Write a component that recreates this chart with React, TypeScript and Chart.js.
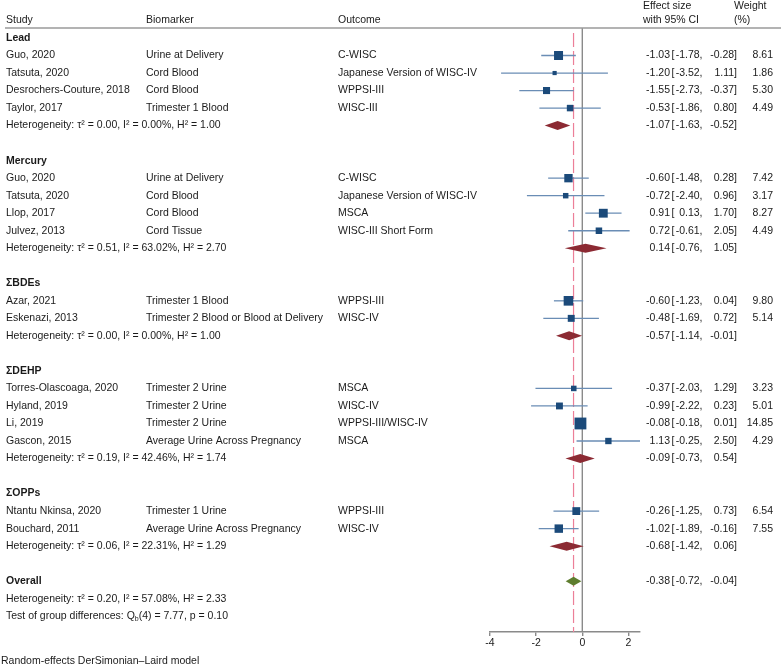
import React, { useEffect, useRef } from "react";
import { Chart, registerables } from "chart.js";
Chart.register(...registerables);

const groupNames = ["Lead", "Mercury", "ΣBDEs", "ΣDEHP", "ΣOPPs"];
const studyGroup = [0, 0, 0, 0, 1, 1, 1, 1, 2, 2, 3, 3, 3, 3, 4, 4];
const studyNames = [
  "Guo, 2020", "Tatsuta, 2020", "Desrochers-Couture, 2018", "Taylor, 2017",
  "Guo, 2020", "Tatsuta, 2020", "Llop, 2017", "Julvez, 2013",
  "Azar, 2021", "Eskenazi, 2013",
  "Torres-Olascoaga, 2020", "Hyland, 2019", "Li, 2019", "Gascon, 2015",
  "Ntantu Nkinsa, 2020", "Bouchard, 2011",
];
const biomarkers = [
  "Urine at Delivery", "Cord Blood", "Cord Blood", "Trimester 1 Blood",
  "Urine at Delivery", "Cord Blood", "Cord Blood", "Cord Tissue",
  "Trimester 1 Blood", "Trimester 2 Blood or Blood at Delivery",
  "Trimester 2 Urine", "Trimester 2 Urine", "Trimester 2 Urine", "Average Urine Across Pregnancy",
  "Trimester 1 Urine", "Average Urine Across Pregnancy",
];
const outcomes = [
  "C-WISC", "Japanese Version of WISC-IV", "WPPSI-III", "WISC-III",
  "C-WISC", "Japanese Version of WISC-IV", "MSCA", "WISC-III Short Form",
  "WPPSI-III", "WISC-IV",
  "MSCA", "WISC-IV", "WPPSI-III/WISC-IV", "MSCA",
  "WPPSI-III", "WISC-IV",
];
const effects = [-1.03, -1.2, -1.55, -0.53, -0.6, -0.72, 0.91, 0.72, -0.6, -0.48, -0.37, -0.99, -0.08, 1.13, -0.26, -1.02];
const lowers = [-1.78, -3.52, -2.73, -1.86, -1.48, -2.4, 0.13, -0.61, -1.23, -1.69, -2.03, -2.22, -0.18, -0.25, -1.25, -1.89];
const uppers = [-0.28, 1.11, -0.37, 0.8, 0.28, 0.96, 1.7, 2.05, 0.04, 0.72, 1.29, 0.23, 0.01, 2.5, 0.73, -0.16];
const weights = [8.61, 1.86, 5.3, 4.49, 7.42, 3.17, 8.27, 4.49, 9.8, 5.14, 3.23, 5.01, 14.85, 4.29, 6.54, 7.55];

const groupEffects = [-1.07, 0.14, -0.57, -0.09, -0.68];
const groupLowers = [-1.63, -0.76, -1.14, -0.73, -1.42];
const groupUppers = [-0.52, 1.05, -0.01, 0.54, 0.06];
const groupTau2 = ["0.00", "0.51", "0.00", "0.19", "0.06"];
const groupI2 = ["0.00", "63.02", "0.00", "42.46", "22.31"];
const groupH2 = ["1.00", "2.70", "1.00", "1.74", "1.29"];

const overallEffect = -0.38;
const overallLower = -0.72;
const overallUpper = -0.04;
const overallTau2 = "0.20";
const overallI2 = "57.08";
const overallH2 = "2.33";
const testDf = 4;
const testQ = "7.77";
const testP = "0.10";

const xTicks = [-4, -2, 0, 2];

const FONT = '"Liberation Sans", Arial, Helvetica, sans-serif';
const FS = 10.5;

// row layout
const studyRows: number[] = [];
const groupHeaderRows: number[] = [];
const groupHetRows: number[] = [];
let r = 0;
groupNames.forEach((_, g) => {
  groupHeaderRows.push(r);
  r++;
  studyGroup.forEach((sg, i) => {
    if (sg === g) {
      studyRows[i] = r;
      r++;
    }
  });
  groupHetRows.push(r);
  r += 2;
});
const overallRow = r;
const overallHetRow = r + 1;
const testRow = r + 2;

const fmt = (v: number) => v.toFixed(2);

export default function App() {
  const ref = useRef<HTMLCanvasElement | null>(null);
  useEffect(() => {
    const canvas = ref.current;
    if (!canvas) return;

    const forest = {
      id: "forest",
      beforeDatasetsDraw(chart: any) {
        const ctx = chart.ctx;
        const xs = chart.scales.x;
        const ys = chart.scales.y;
        const area = chart.chartArea;
        ctx.save();
        // zero line
        const x0 = xs.getPixelForValue(0);
        ctx.strokeStyle = "#8a8a8a";
        ctx.lineWidth = 1.4;
        ctx.beginPath();
        ctx.moveTo(x0, area.top);
        ctx.lineTo(x0, area.bottom);
        ctx.stroke();
        // overall dashed line
        const xo = xs.getPixelForValue(overallEffect);
        ctx.strokeStyle = "#ec7f98";
        ctx.lineWidth = 1.2;
        ctx.setLineDash([14, 4]);
        ctx.beginPath();
        ctx.moveTo(xo, area.top + 5);
        ctx.lineTo(xo, area.bottom);
        ctx.stroke();
        ctx.setLineDash([]);
        // CI lines
        ctx.strokeStyle = "#6a8db5";
        ctx.lineWidth = 1.3;
        effects.forEach((_, i) => {
          const y = ys.getPixelForValue(studyRows[i]);
          ctx.beginPath();
          ctx.moveTo(xs.getPixelForValue(lowers[i]), y);
          ctx.lineTo(xs.getPixelForValue(uppers[i]), y);
          ctx.stroke();
        });
        // diamonds
        const diamond = (row: number, e: number, lo: number, hi: number, color: string) => {
          const y = ys.getPixelForValue(row);
          ctx.fillStyle = color;
          ctx.beginPath();
          ctx.moveTo(xs.getPixelForValue(lo), y);
          ctx.lineTo(xs.getPixelForValue(e), y - 4.5);
          ctx.lineTo(xs.getPixelForValue(hi), y);
          ctx.lineTo(xs.getPixelForValue(e), y + 4.5);
          ctx.closePath();
          ctx.fill();
        };
        groupEffects.forEach((e, g) => diamond(groupHetRows[g], e, groupLowers[g], groupUppers[g], "#8c2a33"));
        diamond(overallRow, overallEffect, overallLower, overallUpper, "#5e7d2e");
        ctx.restore();
      },
      afterDraw(chart: any) {
        const ctx = chart.ctx;
        const ys = chart.scales.y;
        ctx.save();
        ctx.fillStyle = "#1a1a1a";
        ctx.textBaseline = "middle";
        const font = (bold = false, size = FS) => `${bold ? "bold " : ""}${size}px ${FONT}`;
        const text = (s: string, x: number, y: number, align: CanvasTextAlign = "left", bold = false) => {
          ctx.font = font(bold);
          ctx.textAlign = align;
          ctx.fillText(s, x, y);
        };
        // headers
        text("Study", 6, 20);
        text("Biomarker", 146, 20);
        text("Outcome", 338, 20);
        text("Effect size", 643, 6);
        text("with 95% CI", 643, 20);
        text("Weight", 734, 6);
        text("(%)", 734, 20);
        // rule
        ctx.strokeStyle = "#9a9a9a";
        ctx.lineWidth = 1.5;
        ctx.beginPath();
        ctx.moveTo(5, 28);
        ctx.lineTo(781, 28);
        ctx.stroke();

        const ci = (e: number, lo: number, hi: number, y: number) => {
          text(fmt(e), 670, y, "right");
          text("[", 671.5, y, "left");
          text(fmt(lo) + ",", 702.5, y, "right");
          text(fmt(hi) + "]", 737, y, "right");
        };

        groupNames.forEach((gn, g) => {
          text(gn, 6, ys.getPixelForValue(groupHeaderRows[g]), "left", true);
          const hy = ys.getPixelForValue(groupHetRows[g]);
          text(`Heterogeneity: τ² = ${groupTau2[g]}, I² = ${groupI2[g]}%, H² = ${groupH2[g]}`, 6, hy);
          ci(groupEffects[g], groupLowers[g], groupUppers[g], hy);
        });
        studyNames.forEach((s, i) => {
          const y = ys.getPixelForValue(studyRows[i]);
          text(s, 6, y);
          text(biomarkers[i], 146, y);
          text(outcomes[i], 338, y);
          ci(effects[i], lowers[i], uppers[i], y);
          text(fmt(weights[i]), 773, y, "right");
        });
        const oy = ys.getPixelForValue(overallRow);
        text("Overall", 6, oy, "left", true);
        ci(overallEffect, overallLower, overallUpper, oy);
        text(`Heterogeneity: τ² = ${overallTau2}, I² = ${overallI2}%, H² = ${overallH2}`, 6, ys.getPixelForValue(overallHetRow));
        // test of group differences with subscript
        const ty = ys.getPixelForValue(testRow);
        ctx.font = font();
        ctx.textAlign = "left";
        const p1 = "Test of group differences: Q";
        ctx.fillText(p1, 6, ty);
        let tx = 6 + ctx.measureText(p1).width;
        ctx.font = font(false, 7);
        ctx.fillText("b", tx, ty + 3);
        tx += ctx.measureText("b").width;
        ctx.font = font();
        ctx.fillText(`(${testDf}) = ${testQ}, p = ${testP}`, tx, ty);
        // footnote
        text("Random-effects DerSimonian–Laird model", 1, 661);
        ctx.restore();
      },
    };

    const chart = new Chart(canvas, {
      type: "scatter",
      data: {
        datasets: [
          {
            data: effects.map((e, i) => ({ x: e, y: studyRows[i] })),
            pointStyle: "rect",
            pointRadius: weights.map((w) => (3.07 * Math.sqrt(w)) / Math.SQRT2),
            pointHoverRadius: weights.map((w) => (3.07 * Math.sqrt(w)) / Math.SQRT2),
            backgroundColor: "#1b4a7a",
            borderWidth: 0,
          },
        ],
      },
      options: {
        responsive: false,
        animation: false,
        devicePixelRatio: 1,
        layout: { padding: { left: 490, right: 144, top: 28, bottom: 0 } },
        plugins: { legend: { display: false }, tooltip: { enabled: false } },
        scales: {
          x: {
            type: "linear",
            min: -4,
            max: 2.5,
            afterBuildTicks: (s: any) => {
              s.ticks = xTicks.map((v) => ({ value: v }));
            },
            afterFit: (s: any) => {
              s.height = 34;
            },
            border: { display: true, color: "#8a8a8a", width: 1.4 },
            grid: { display: true, drawOnChartArea: false, drawTicks: true, tickLength: 4, color: "#8a8a8a", lineWidth: 1.4 },
            ticks: { color: "#1a1a1a", font: { family: FONT, size: FS }, padding: 1, maxRotation: 0 },
          },
          y: {
            type: "linear",
            display: false,
            min: -0.57,
            max: 33.9,
            reverse: true,
          },
        },
      },
      plugins: [forest],
    } as any);
    return () => chart.destroy();
  }, []);

  return (
    <div style={{ position: "absolute", left: 0, top: 0, width: 784, height: 666 }}>
      <canvas ref={ref} width={784} height={666} />
    </div>
  );
}
